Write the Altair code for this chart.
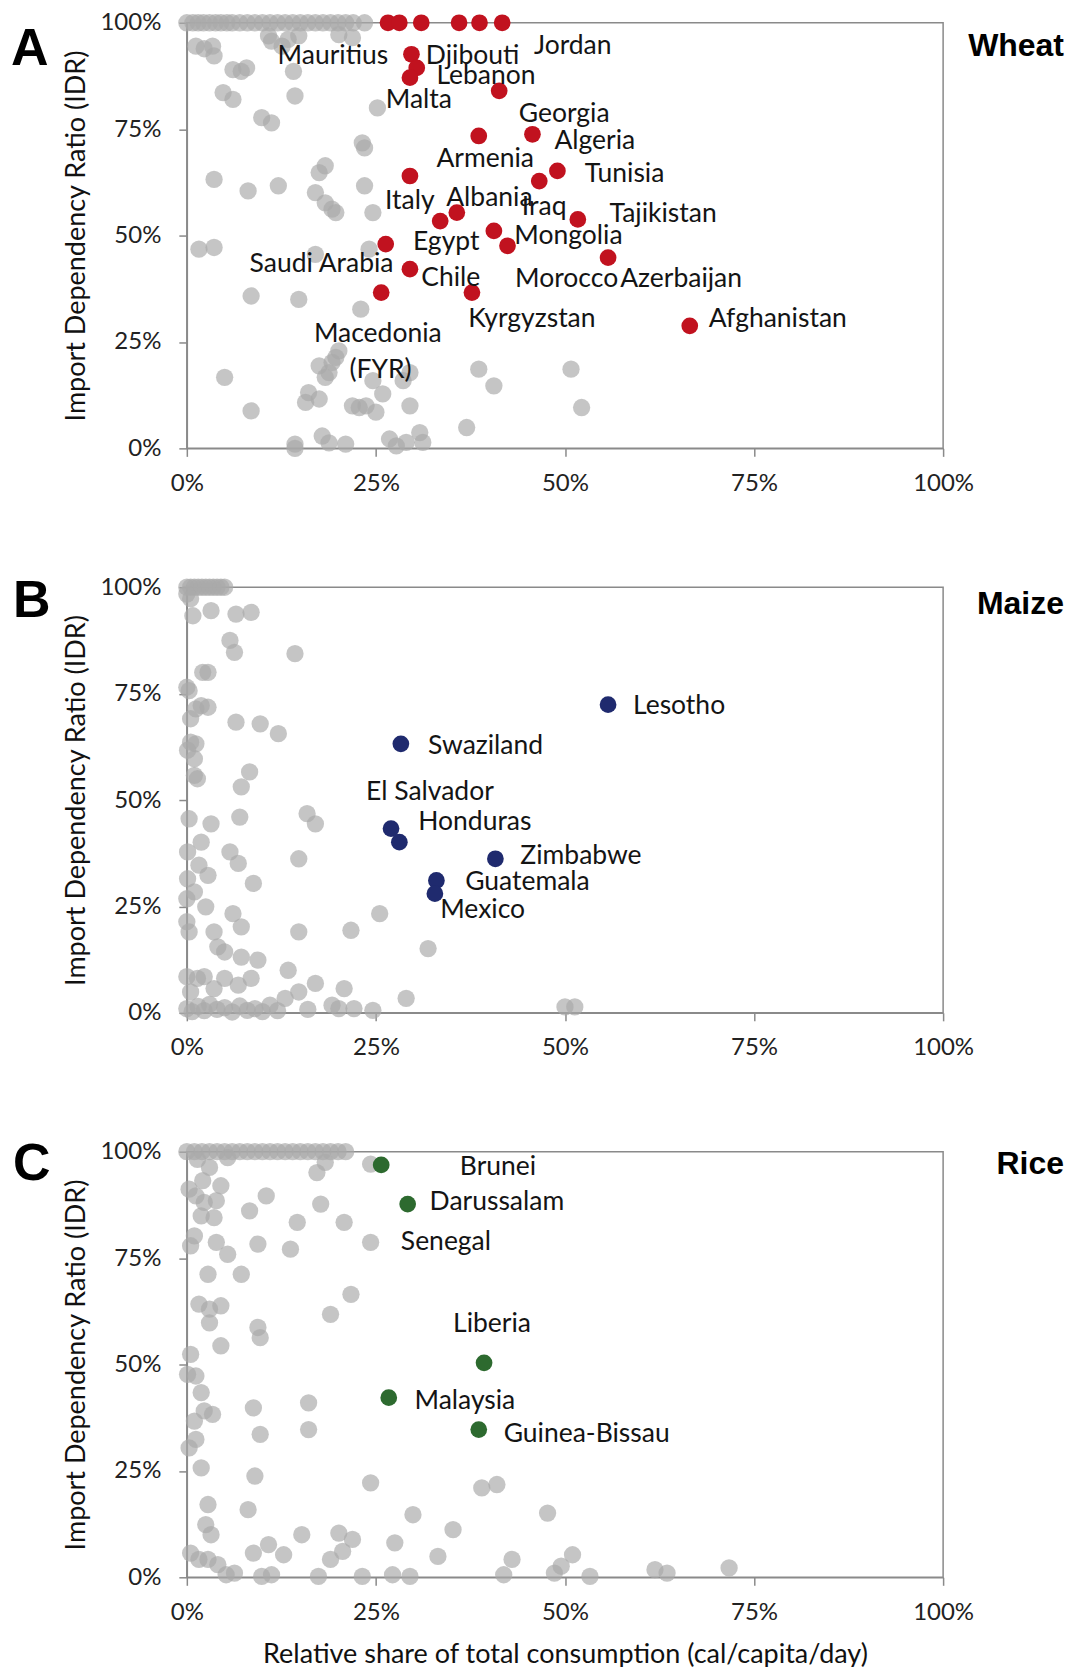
import altair as alt
import pandas as pd

# ---------------- Panel A: Wheat ----------------
a_gray_x = [0, 0.8, 1.5, 2.2, 3, 3.8, 4.5, 5.3, 6, 7, 8, 9, 10, 11, 12, 13, 14, 15, 16, 17, 18, 19, 20, 21, 22, 23.5,
            1.2, 2.3, 3.4, 3.6, 11.2, 12.6, 13.4, 10.8, 14.8, 20.1, 21.9,
            6.1, 7.9, 7.2, 4.8, 6.1, 14.3, 14.1, 25.2, 9.9, 11.2, 23.5, 23.2,
            3.6, 8.1, 12.1, 17.5, 18.3, 17.0, 18.3, 19.2, 19.7, 23.5, 24.6,
            1.6, 3.6, 17.0, 24.1, 8.5, 14.8, 23.0, 20.1, 19.7, 5.0,
            17.5, 18.8, 19.2, 18.3, 24.6, 25.9, 28.6, 29.5, 16.1, 17.5, 15.7,
            8.5, 21.9, 22.8, 23.7, 25.0, 29.5, 38.6, 40.6, 37.0,
            17.9, 18.8, 21.0, 14.3, 14.3, 26.8, 27.7, 29.0, 30.8, 31.2, 50.8, 52.2]
a_gray_y = [100] * 26 + \
           [94.5, 93.9, 94.5, 92.2, 95.7, 94.5, 96.1, 96.9, 96.9, 97.2, 96.5,
            89.0, 89.4, 88.6, 83.6, 82.0, 82.8, 88.6, 80.0, 77.7, 76.5, 70.6, 71.8,
            63.2, 60.5, 61.7, 64.8, 66.4, 60.1, 57.7, 56.2, 55.4, 61.7, 55.4,
            46.8, 47.2, 45.6, 46.8, 35.8, 35.0, 32.7, 22.9, 21.4, 16.7,
            19.4, 17.8, 20.2, 16.7, 15.9, 12.8, 15.9, 17.8, 13.1, 11.6, 10.8,
            8.8, 10.0, 9.6, 10.0, 8.5, 10.0, 18.6, 14.7, 4.9,
            2.9, 1.3, 1.0, 1.0, 0.0, 2.2, 0.6, 1.4, 3.7, 1.4, 18.6, 9.6]
a_hi_x = [26.6, 28.1, 31.0, 36.0, 38.7, 41.7,
          29.7, 30.4, 29.5, 41.3, 38.6, 45.7, 49.0, 46.6, 29.5, 33.5, 35.7, 40.6, 42.4,
          26.3, 29.5, 25.7, 37.7, 51.7, 55.7, 66.5]
a_hi_y = [100, 100, 100, 100, 100, 100,
          92.6, 89.4, 87.1, 84.0, 73.4, 73.8, 65.2, 62.8, 64.0, 53.4, 55.4, 51.1, 47.6,
          48.0, 42.1, 36.6, 36.6, 53.8, 44.8, 28.8]
a_lab = ["Mauritius", "Djibouti", "Jordan", "Lebanon", "Malta", "Georgia", "Algeria", "Armenia",
         "Tunisia", "Italy", "Albania", "Iraq", "Tajikistan", "Mongolia", "Egypt", "Saudi Arabia",
         "Chile", "Morocco", "Azerbaijan", "Kyrgyzstan", "Afghanistan", "Macedonia", "(FYR)"]
a_lab_x = [12.0, 31.6, 45.9, 33.0, 26.3, 43.9, 48.6, 33.0, 52.6, 26.2, 34.3, 44.3, 55.9, 43.3,
           29.9, 8.3, 31.0, 43.4, 57.3, 37.2, 69.0, 16.8, 21.5]
a_lab_y = [92.2, 92.3, 94.5, 87.5, 81.9, 78.5, 72.3, 67.9, 64.4, 58.2, 58.9, 56.6, 55.0, 49.9,
           48.4, 43.3, 40.1, 39.7, 39.7, 30.3, 30.3, 26.8, 18.3]

# ---------------- Panel B: Maize ----------------
b_gray_x = [0, 0.5, 1, 1.5, 2, 2.5, 3, 3.5, 4, 4.5, 5, 0, 0.5,
            0.8, 3.2, 6.5, 8.5, 5.7, 6.3, 14.3, 2.1, 2.8, 0, 0.3, 1.2, 2.8, 1.9, 0.5,
            6.5, 9.7, 12.1, 0.5, 1.2, 0.1, 1.0, 1.0, 1.4, 8.3, 7.2,
            0.3, 3.2, 7.0, 15.9, 17.0, 1.9, 0.1, 5.7, 6.8, 1.6, 2.8, 0.1, 14.8, 8.8,
            1.0, 2.5, 0, 6.1, 7.2, 25.5, 0, 0.3, 3.6, 4.1, 5.0, 14.8, 21.7, 31.9, 7.2, 9.4, 13.4,
            0, 2.3, 1.4, 5.0, 8.5, 6.8, 3.6, 0.5, 17.0, 20.8, 29.0, 14.8, 13.0,
            0, 0.7, 1.5, 2.3, 3, 4, 5, 6, 7, 8, 9, 10, 11, 12, 16,
            19.2, 20.1, 22.1, 24.6, 50.0, 51.3]
b_gray_y = [100] * 11 + [98.4, 97.3] + \
           [93.3, 94.5, 93.7, 94.1, 87.5, 84.7, 84.4, 80.0, 80.0, 76.5, 75.7, 71.4, 71.8, 72.2, 69.1,
            68.3, 67.9, 65.6, 63.6, 63.2, 61.7, 59.7, 55.8, 55.0, 56.6, 53.1,
            45.6, 44.4, 46.0, 46.8, 44.4, 40.1, 37.8, 37.8, 35.1, 34.7, 32.3, 31.5, 36.2, 30.4,
            28.4, 24.9, 26.8, 23.3, 20.2, 23.3, 21.4, 19.0, 19.0, 15.5, 14.3, 19.0, 19.4, 15.1, 13.1, 12.4, 10.0,
            8.5, 8.5, 8.1, 8.1, 8.1, 6.5, 5.7, 4.9, 6.9, 5.7, 3.4, 4.9, 3.4,
            1.0, 0.3, 1.5, 0.5, 2.0, 0.8, 1.2, 0.2, 1.6, 0.6, 1.0, 0.3, 1.8, 0.5, 0.8,
            1.8, 1.0, 1.0, 0.6, 1.4, 1.4]
b_hi_x = [55.7, 28.3, 27.0, 28.1, 40.8, 33.0, 32.8]
b_hi_y = [72.4, 63.2, 43.3, 40.1, 36.2, 31.1, 28.0]
b_lab = ["Lesotho", "Swaziland", "El Salvador", "Honduras", "Zimbabwe", "Guatemala", "Mexico"]
b_lab_x = [59.0, 31.9, 23.7, 30.6, 44.1, 36.8, 33.5]
b_lab_y = [72.2, 62.7, 51.9, 44.8, 36.9, 30.8, 24.1]

# ---------------- Panel C: Rice ----------------
c_gray_x = [0, 1, 2, 3, 4, 5, 6, 7, 8, 9, 10, 11, 12, 13, 14, 15, 16, 17, 18, 19, 20, 21,
            3.0, 5.4, 1.4, 17.2, 18.3, 24.3,
            0.3, 2.1, 4.5, 3.9, 2.3, 1.2, 1.9, 3.6, 8.3, 10.5, 17.7, 14.6, 20.8,
            1.0, 0.5, 3.9, 5.4, 9.4, 13.7, 24.3, 2.8, 7.2, 21.7, 19.0,
            1.6, 3.0, 4.5, 3.0, 9.4, 9.7, 4.5, 0.5, 0.1, 1.2, 1.9,
            2.3, 3.4, 1.0, 8.8, 16.1, 16.1, 9.7, 1.2, 0.3, 1.9, 9.0, 24.3, 39.0, 41.0,
            2.8, 8.1, 29.9, 2.5, 3.2, 15.2, 20.1, 21.9, 35.2, 47.7,
            8.8, 10.8, 12.8, 20.6, 19.0, 27.5, 33.2, 43.0, 49.5, 0.5, 1.6, 2.8, 4.1,
            5.2, 6.3, 9.9, 11.2, 17.4, 23.2, 27.2, 29.5, 41.9, 48.6,
            51.0, 53.3, 61.9, 63.5, 71.7]
c_gray_y = [100] * 22 + \
           [96.3, 98.6, 98.2, 95.1, 97.5, 97.1,
            91.2, 93.2, 92.0, 88.5, 88.1, 89.6, 84.9, 84.5, 86.1, 89.6, 87.7, 83.4, 83.4,
            80.2, 77.9, 78.7, 75.9, 78.3, 77.1, 78.7, 71.2, 71.2, 66.5, 61.8,
            64.2, 63.0, 63.8, 59.8, 58.7, 56.3, 54.4, 52.4, 47.7, 47.3, 43.4,
            39.1, 38.3, 36.7, 39.8, 41.0, 34.7, 33.6, 32.4, 30.4, 25.7, 23.8, 22.2, 21.0, 21.8,
            17.1, 15.9, 14.7, 12.4, 10.0, 10.0, 10.4, 8.9, 11.2, 15.1,
            5.7, 7.7, 5.3, 6.1, 4.2, 8.1, 4.9, 4.2, 2.6, 5.7, 4.2, 4.2, 3.0,
            0.6, 1.0, 0.2, 0.6, 0.2, 0.2, 0.6, 0.2, 0.6, 1.0,
            5.3, 0.2, 1.8, 1.0, 2.2]
c_hi_x = [25.7, 29.2, 39.3, 26.7, 38.6]
c_hi_y = [96.9, 87.7, 50.4, 42.2, 34.7]
c_lab = ["Brunei", "Darussalam", "Senegal", "Liberia", "Malaysia", "Guinea-Bissau"]
c_lab_x = [36.1, 32.1, 28.3, 35.2, 30.1, 41.9]
c_lab_y = [96.3, 88.1, 78.7, 59.5, 41.4, 33.6]

TICKS = [0, 25, 50, 75, 100]
FONT = "Lato"
AXIS_COLOR = "#8a8a8a"
W, H = 757, 426


def panel(gx, gy, hx, hy, color, lab, lx, ly, letter, letter_x, letter_y, crop, crop_y, xtitle):
    dom = alt.Scale(domain=[0, 100], nice=False, zero=False)
    xaxis = alt.Axis(values=TICKS, labelExpr="datum.value + '%'", grid=False, labelFlush=False,
                     tickSize=8, labelPadding=15, labelFontSize=24, labelFont=FONT,
                     labelColor="#222", domainColor=AXIS_COLOR, tickColor=AXIS_COLOR,
                     domainWidth=1.5, tickWidth=1.5,
                     title=xtitle if xtitle else None, titleFont=FONT, titleFontSize=27,
                     titleFontWeight="normal", titleColor="#111", titlePadding=17)
    yaxis = alt.Axis(values=TICKS, labelExpr="datum.value + '%'", grid=False, labelFlush=False,
                     tickSize=8, labelPadding=18, labelFontSize=24, labelFont=FONT,
                     labelColor="#222", domainColor=AXIS_COLOR, tickColor=AXIS_COLOR,
                     domainWidth=1.5, tickWidth=1.5,
                     title="Import Dependency Ratio (IDR)", titleFont=FONT, titleFontSize=27,
                     titleFontWeight="normal", titleColor="#111", titlePadding=9)
    g = pd.DataFrame({"x": gx, "y": gy})
    h = pd.DataFrame({"x": hx, "y": hy})
    l = pd.DataFrame({"x": lx, "y": ly, "t": lab})
    gray = alt.Chart(g).mark_circle(size=300, color="#a9a9a9", opacity=0.68).encode(
        x=alt.X("x:Q", scale=dom, axis=xaxis),
        y=alt.Y("y:Q", scale=dom, axis=yaxis))
    hi = alt.Chart(h).mark_circle(size=280, color=color, opacity=1).encode(
        x=alt.X("x:Q", scale=dom), y=alt.Y("y:Q", scale=dom))
    labels = alt.Chart(l).mark_text(align="left", baseline="middle", fontSize=26.5, font=FONT,
                                    color="#141414").encode(
        x=alt.X("x:Q", scale=dom), y=alt.Y("y:Q", scale=dom), text="t:N")
    let = alt.Chart(pd.DataFrame({"t": [letter]})).mark_text(
        align="left", baseline="alphabetic", fontSize=52, fontWeight="bold",
        font="Liberation Sans", color="#000").encode(
        x=alt.value(letter_x), y=alt.value(letter_y), text="t:N")
    cr = alt.Chart(pd.DataFrame({"t": [crop]})).mark_text(
        align="right", baseline="alphabetic", fontSize=32, fontWeight="bold",
        font="Liberation Sans", color="#000").encode(
        x=alt.value(878), y=alt.value(crop_y), text="t:N")
    return alt.layer(gray, hi, labels, let, cr).properties(width=W, height=H)


pa = panel(a_gray_x, a_gray_y, a_hi_x, a_hi_y, "#c1121f", a_lab, a_lab_x, a_lab_y,
           "A", -176, 42, "Wheat", 33, None)
pb = panel(b_gray_x, b_gray_y, b_hi_x, b_hi_y, "#1f2a6e", b_lab, b_lab_x, b_lab_y,
           "B", -174, 30, "Maize", 27, None)
pc = panel(c_gray_x, c_gray_y, c_hi_x, c_hi_y, "#2d6a2f", c_lab, c_lab_x, c_lab_y,
           "C", -174, 28, "Rice", 22, "Relative share of total consumption (cal/capita/day)")

chart = alt.vconcat(pa, pb, pc, spacing=139, bounds="flush").properties(
    padding={"left": 2, "top": 1, "right": 0, "bottom": 0}
).configure_view(stroke=AXIS_COLOR, strokeWidth=1.5)

chart.save("out.html", embed_options={"renderer": "svg", "actions": False})
